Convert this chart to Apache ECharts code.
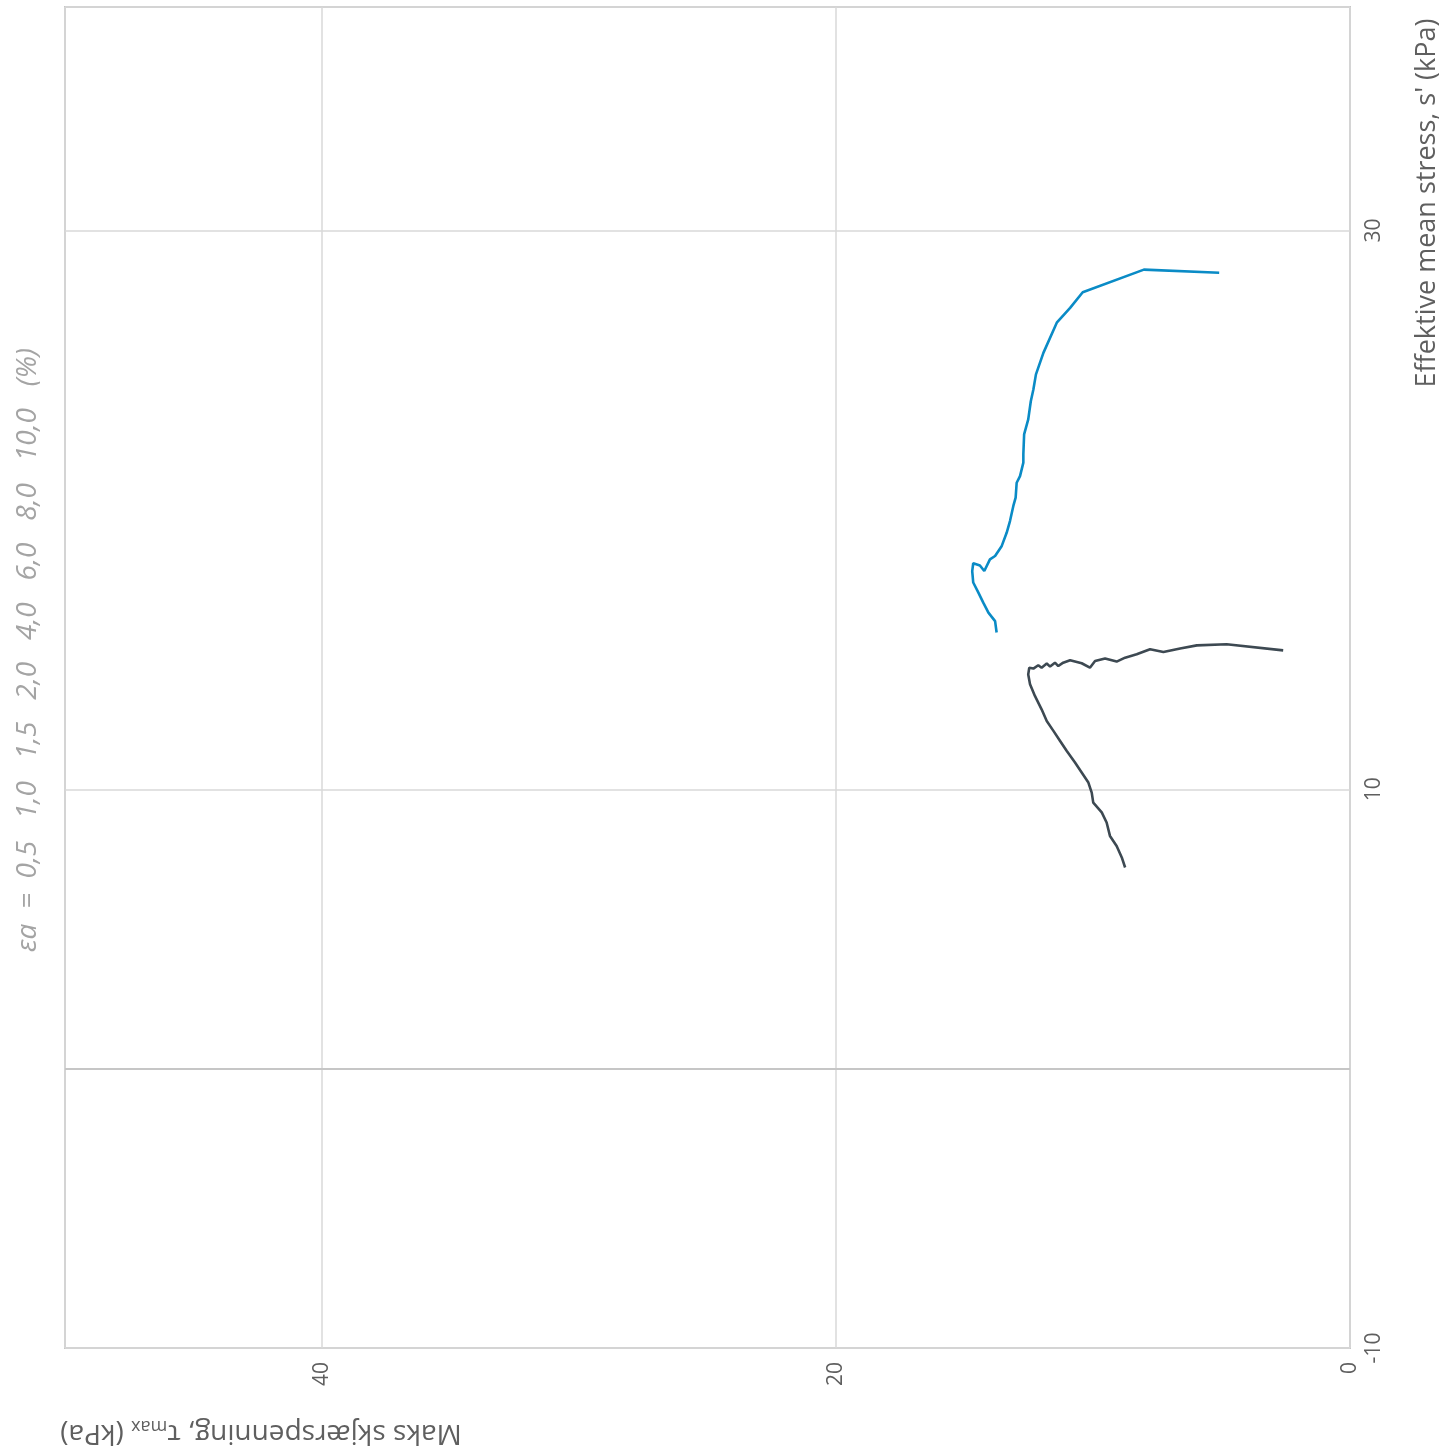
<!DOCTYPE html>
<html><head><meta charset="utf-8">
<script src="https://cdn.jsdelivr.net/npm/echarts@6/dist/echarts.min.js"></script>
<style>html,body{margin:0;padding:0;background:#fff}#c{width:1443px;height:1448px}</style>
</head><body><div id="c"></div>
<script>
// Tick labels
const tauTicks = [0, 20, 40];
const sTicks = [-10, 10, 30];

// Series 1 (blue): tau_max and s'
const tauBlue = [5.09, 8.02, 10.40, 10.89, 11.41, 11.93, 12.22, 12.32, 12.42, 12.52, 12.68, 12.71, 12.71, 12.84, 12.97, 13.01, 13.10, 13.23, 13.36, 13.55, 13.81, 14.01, 14.23, 14.40, 14.66, 14.70, 14.66, 14.46, 14.27, 14.07, 13.81, 13.75];
const sBlue   = [28.49, 28.60, 27.79, 27.23, 26.70, 25.62, 24.85, 24.31, 23.89, 23.24, 22.70, 21.99, 21.69, 21.21, 20.97, 20.44, 20.14, 19.60, 19.18, 18.71, 18.35, 18.23, 17.81, 18.01, 18.09, 17.81, 17.40, 17.04, 16.68, 16.32, 16.02, 15.61];

// Series 2 (dark): tau_max and s'
const tauDark = [2.60, 4.80, 5.96, 6.61, 7.26, 7.78, 8.30, 8.75, 9.08, 9.53, 9.92, 10.12, 10.44, 10.89, 11.16, 11.35, 11.48, 11.67, 11.80, 12.00, 12.13, 12.32, 12.48, 12.52, 12.45, 12.26, 12.00, 11.80, 11.54, 11.28, 11.02, 10.70, 10.44, 10.18, 10.05, 9.99, 9.66, 9.47, 9.34, 9.08, 8.88, 8.75];
const sDark   = [14.97, 15.19, 15.15, 15.04, 14.91, 15.01, 14.83, 14.71, 14.57, 14.68, 14.59, 14.35, 14.51, 14.62, 14.53, 14.41, 14.53, 14.39, 14.50, 14.35, 14.44, 14.32, 14.35, 14.11, 13.76, 13.34, 12.86, 12.44, 12.09, 11.73, 11.37, 10.96, 10.60, 10.24, 9.88, 9.52, 9.17, 8.81, 8.33, 7.97, 7.56, 7.20];

// Texts
const strainText = 'εa  =  0,5   1,0   1,5   2,0   4,0   6,0   8,0   10,0   (%)';
const sName = "Effektive mean stress, s' (kPa)";
const tauNameMain = 'Maks skjærspenning, τ';
const tauNameSub = 'max';
const tauNameEnd = ' (kPa)';

const chart = echarts.init(document.getElementById('c'), null, { renderer: 'canvas' });
const zip = (a, b) => a.map((v, i) => [v, b[i]]);
const FONT = '"Open Sans", "Noto Sans", sans-serif';

const option = {
  animation: false,
  backgroundColor: '#ffffff',
  grid: { left: 65, right: 93, top: 7, bottom: 100, show: true, borderColor: '#c6c6c6', borderWidth: 2, backgroundColor: 'transparent' },
  xAxis: {
    type: 'value', min: 0, max: 50, interval: 20, inverse: true, position: 'bottom',
    axisLine: { show: false }, axisTick: { show: false },
    axisLabel: { rotate: 90, margin: 14, fontSize: 21, color: '#5f5f5f', fontFamily: FONT,
      formatter: v => tauTicks.includes(v) ? String(v) : '' },
    splitLine: { show: true, lineStyle: { color: '#d9d9d9', width: 1.5 } }
  },
  yAxis: {
    type: 'value', min: -10, max: 38, interval: 20, position: 'right',
    axisLine: { show: false }, axisTick: { show: false },
    axisLabel: { rotate: 90, margin: 14, fontSize: 21, color: '#5f5f5f', fontFamily: FONT,
      formatter: v => sTicks.includes(v) ? String(v) : '' },
    splitLine: { show: true, lineStyle: { color: '#d9d9d9', width: 1.5 } }
  },
  series: [
    {
      type: 'line', data: zip(tauBlue, sBlue), showSymbol: false, symbol: 'none',
      lineStyle: { color: '#0a8bc6', width: 2.6 }, itemStyle: { color: '#0a8bc6' },
      markLine: { silent: true, symbol: 'none', label: { show: false },
        lineStyle: { color: '#c6c6c6', width: 2, type: 'solid' }, data: [{ yAxis: 0 }] }
    },
    {
      type: 'line', data: zip(tauDark, sDark), showSymbol: false, symbol: 'none',
      lineStyle: { color: '#3d4952', width: 2.6 }, itemStyle: { color: '#3d4952' }
    }
  ],
  graphic: [
    { type: 'text', x: 28, y: 650, rotation: Math.PI / 2,
      style: { text: strainText, fill: '#a4a4a4', font: 'italic 28px ' + FONT, align: 'center', verticalAlign: 'middle' } },
    { type: 'text', x: 1427, y: 203, rotation: Math.PI / 2,
      style: { text: sName, fill: '#5f5f5f', font: '27px ' + FONT, align: 'center', verticalAlign: 'middle' } },
    { type: 'text', x: 261, y: 1433, rotation: Math.PI,
      style: { text: '{n|' + tauNameMain + '}{s|' + tauNameSub + '}{n|' + tauNameEnd + '}',
        align: 'center', verticalAlign: 'middle',
        rich: {
          n: { fontSize: 28, fontFamily: FONT, fill: '#5f5f5f', color: '#5f5f5f', lineHeight: 32, verticalAlign: 'middle' },
          s: { fontSize: 18, fontFamily: FONT, fill: '#5f5f5f', color: '#5f5f5f', lineHeight: 32, verticalAlign: 'bottom' }
        } } }
  ]
};
chart.setOption(option);
</script></body></html>
